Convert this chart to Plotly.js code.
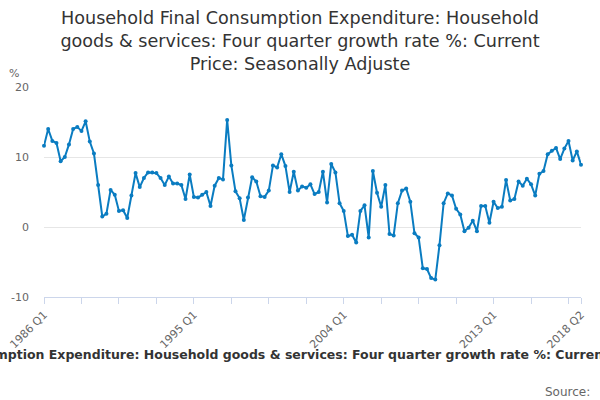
<!DOCTYPE html>
<html>
<head>
<meta charset="utf-8">
<script src="https://cdn.plot.ly/plotly-3.0.1.min.js"></script>
<style>
  html, body { margin: 0; padding: 0; background: #fff; }
  #chart { width: 600px; height: 400px; }
</style>
</head>
<body>
<div id="chart"></div>
<script>
// quarters 1986 Q1 .. 2018 Q2
var firstYear = 1986;
var quarters = [];
for (var y = firstYear; y <= 2018; y++) {
    for (var q = 1; q <= 4; q++) {
        if (y === 2018 && q > 2) break;
        quarters.push(y + ' Q' + q);
    }
}

// four quarter growth rate, %
var growth = [
    11.6, 14.0, 12.3, 12.0, 9.4, 10.0, 11.8, 14.0, 14.3, 13.7,
    15.1, 12.2, 10.5, 6.0, 1.5, 1.9, 5.3, 4.6, 2.3, 2.4,
    1.3, 4.5, 7.7, 5.7, 7.0, 7.8, 7.8, 7.7, 7.0, 6.0,
    7.2, 6.2, 6.2, 6.0, 4.0, 7.5, 4.3, 4.2, 4.6, 5.0,
    3.0, 5.9, 7.0, 6.8, 15.3, 8.8, 5.1, 4.1, 1.0, 4.2,
    7.1, 6.5, 4.4, 4.3, 5.2, 8.8, 8.5, 10.4, 8.7, 5.0,
    7.9, 5.2, 5.8, 5.6, 6.1, 4.7, 5.0, 7.9, 3.5, 9.0,
    7.8, 3.4, 2.3, -1.3, -1.1, -2.2, 2.3, 3.1, -1.5, 8.0,
    4.9, 2.9, 6.0, -1.0, -1.2, 3.4, 5.2, 5.5, 3.6, -0.9,
    -1.5, -5.9, -6.0, -7.3, -7.5, -2.6, 3.4, 4.8, 4.5, 2.6,
    1.8, -0.6, -0.1, 0.9, -0.6, 3.0, 3.0, 0.6, 3.6, 2.7,
    2.9, 6.7, 3.8, 4.0, 6.5, 5.9, 6.9, 6.1, 4.5, 7.6,
    8.0, 10.4, 10.9, 11.3, 9.7, 11.2, 12.3, 9.5, 10.8, 8.9
];

var yTicks = [-10, 0, 10, 20];
var yTickText = ['-10', '0', '10', '20'];

var tickEvery = 9;
var labelled = ['1986 Q1', '1995 Q1', '2004 Q1', '2013 Q1', '2018 Q2'];

var tickVals = [], tickText = [];
for (var i = 0; i < quarters.length; i += tickEvery) {
    tickVals.push(quarters[i]);
    tickText.push(labelled.indexOf(quarters[i]) >= 0 ? quarters[i] : '');
}
tickVals.push(quarters[quarters.length - 1]);
tickText.push(quarters[quarters.length - 1]);

var titleText = 'Household Final Consumption Expenditure: Household goods & services: Four quarter growth rate %: Current Price: Seasonally Adjusted';

var trace = {
    x: quarters,
    y: growth,
    type: 'scatter',
    mode: 'lines+markers',
    line: { color: '#0a7cc1', width: 2 },
    marker: { color: '#0a7cc1', size: 4 },
    cliponaxis: false,
    hoverinfo: 'x+y'
};

var layout = {
    width: 600,
    height: 400,
    margin: { l: 44, r: 19, t: 87, b: 103 },
    paper_bgcolor: '#fff',
    plot_bgcolor: '#fff',
    font: { family: 'DejaVu Sans, sans-serif', color: '#666', size: 11 },
    showlegend: false,
    title: {
        text: 'Household Final Consumption Expenditure: Household<br>goods & services: Four quarter growth rate %: Current<br>Price: Seasonally Adjuste',
        font: { family: 'DejaVu Sans, sans-serif', size: 17.6, color: '#333' },
        x: 0.5, xanchor: 'center',
        y: 0.94, yanchor: 'top'
    },
    xaxis: {
        type: 'category',
        range: [0, quarters.length - 1],
        tickmode: 'array',
        tickvals: tickVals,
        ticktext: tickText,
        tickangle: -45,
        ticks: 'outside',
        ticklen: 6,
        tickcolor: '#ccd6eb',
        showline: true,
        linecolor: '#ccd6eb',
        linewidth: 1,
        showgrid: false,
        zeroline: false,
        tickfont: { size: 11, color: '#666' }
    },
    yaxis: {
        range: [-10, 20],
        tickmode: 'array',
        tickvals: yTicks,
        ticktext: yTickText,
        showgrid: true,
        gridcolor: '#e6e6e6',
        zeroline: false,
        showline: false,
        ticks: '',
        ticklabelstandoff: 14,
        tickfont: { size: 11, color: '#666' }
    },
    annotations: [
        {
            text: '%', xref: 'paper', yref: 'paper',
            x: -0.055, y: 1.065, xanchor: 'center', yanchor: 'middle',
            showarrow: false, font: { size: 11, color: '#666' }
        },
        {
            text: '<b>' + titleText + '</b>', xref: 'paper', yref: 'paper',
            x: 0.51, y: -0.272, xanchor: 'center', yanchor: 'middle',
            showarrow: false, font: { size: 12.5, color: '#333' }
        },
        {
            text: 'Source:', xref: 'paper', yref: 'paper',
            x: 1.02, y: -0.452, xanchor: 'right', yanchor: 'middle',
            showarrow: false, font: { size: 12, color: '#666' }
        }
    ]
};

Plotly.newPlot('chart', [trace], layout, { displayModeBar: false, staticPlot: true });
</script>
</body>
</html>
